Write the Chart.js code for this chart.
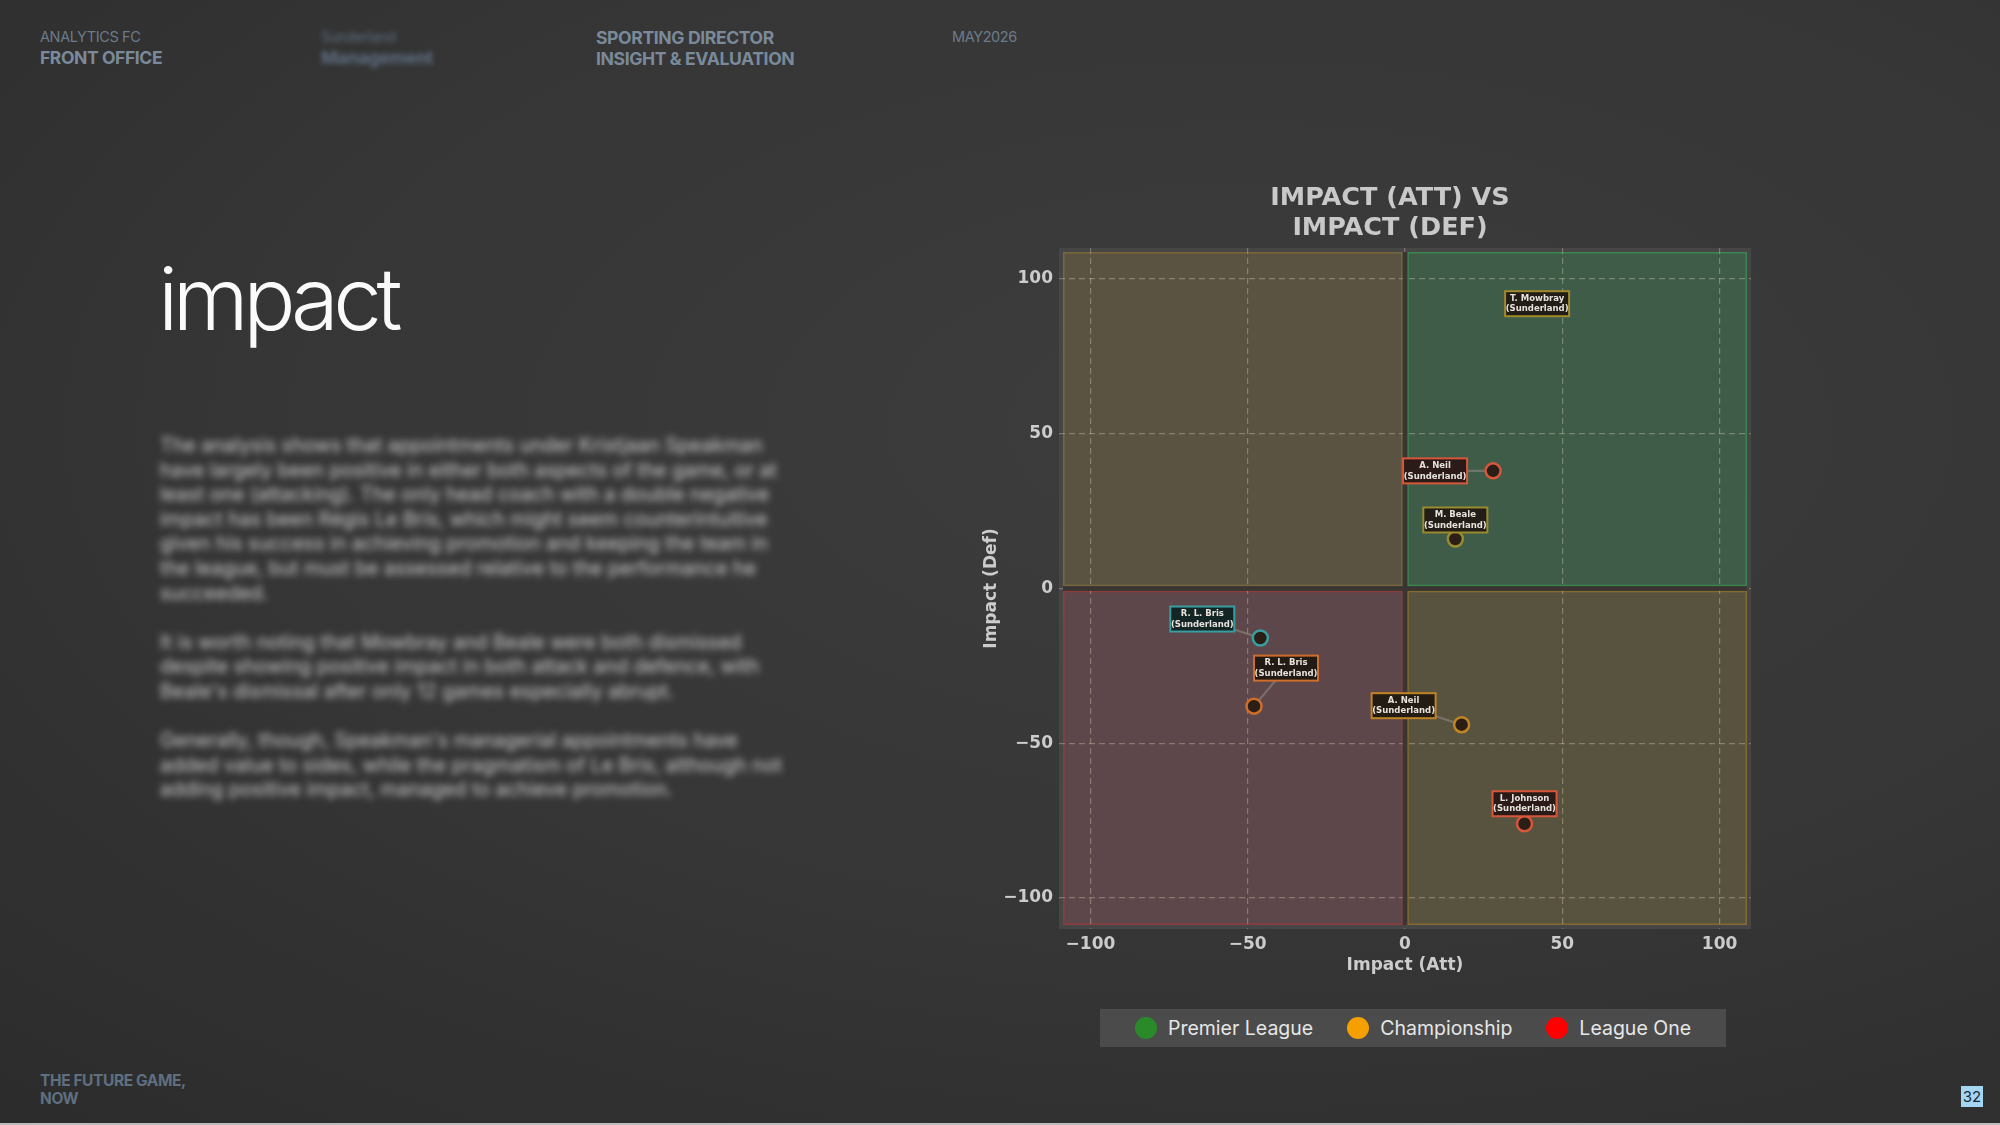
<!DOCTYPE html>
<html>
<head>
<meta charset="utf-8">
<script src="https://cdn.jsdelivr.net/npm/chart.js@4.4.1/dist/chart.umd.min.js"></script>
<style>
  html,body{margin:0;padding:0;}
  body{width:2000px;height:1125px;overflow:hidden;position:relative;
    background: radial-gradient(ellipse 120% 110% at 62% 38%, #3d3d3d 0%, #363636 40%, #2c2c2c 75%, #222 100%);
    font-family: Inter, "Noto Sans", sans-serif;}
  .abs{position:absolute;white-space:nowrap;}
  .hdr{font-size:14.5px;letter-spacing:-0.4px;color:#6c7b8a;line-height:20.5px;}
  .hdr b{font-weight:700;color:#7a8a9b;}
  #bigtitle{left:158px;top:244px;font-size:87px;font-weight:300;color:#fafafa;letter-spacing:-5.5px;line-height:110px;}
  #para{left:160px;top:433px;font-size:19.6px;line-height:24.6px;color:#cfcfcf;filter:blur(3.5px);}
  #para p{margin:0 0 24.6px 0;}
  #legend{left:1100px;top:1009px;width:626px;height:38px;background:#4b4b4b;display:flex;align-items:center;justify-content:center;gap:0;}
  .li{display:flex;align-items:center;font-size:19.5px;color:#e6e6e6;margin:0 17px;}
  .dot{width:22px;height:22px;border-radius:50%;margin-right:11px;}
  #pnum{left:1961px;top:1086px;width:22px;height:21px;background:#a4d6f4;color:#1b2733;font-size:15px;line-height:21px;text-align:center;}
  #bottomline{left:0;top:1123px;width:2000px;height:2px;background:#bdbdbd;}
</style>
</head>
<body>
<div class="abs hdr" style="left:40px;top:27px;">ANALYTICS FC<br><b style="font-size:17.5px;">FRONT OFFICE</b></div>
<div class="abs hdr" style="left:321px;top:27px;filter:blur(2.5px);color:#5d6d80;">Sunderland<br><b style="color:#5d6d80;font-size:18px;">Management</b></div>
<div class="abs hdr" style="left:596px;top:28px;font-size:17.6px;"><b>SPORTING DIRECTOR<br>INSIGHT &amp; EVALUATION</b></div>
<div class="abs hdr" style="left:952px;top:27px;">MAY2026</div>

<div id="bigtitle" class="abs">impact</div>

<div id="para" class="abs">
<p>The analysis shows that appointments under Kristjaan Speakman<br>have largely been positive in either both aspects of the game, or at<br>least one (attacking). The only head coach with a double negative<br>impact has been Régis Le Bris, which might seem counterintuitive<br>given his success in achieving promotion and keeping the team in<br>the league, but must be assessed relative to the performance he<br>succeeded.</p>
<p>It is worth noting that Mowbray and Beale were both dismissed<br>despite showing positive impact in both attack and defence, with<br>Beale's dismissal after only 12 games especially abrupt.</p>
<p>Generally, though, Speakman's managerial appointments have<br>added value to sides, while the pragmatism of Le Bris, although not<br>adding positive impact, managed to achieve promotion.</p>
</div>

<canvas id="c" width="812" height="808" style="position:absolute;left:959px;top:171px;"></canvas>

<div id="legend" class="abs"></div>

<div class="abs hdr" style="left:40px;top:1072px;line-height:18px;"><b style="color:#5f6f80;font-size:15.5px;">THE FUTURE GAME,<br>NOW</b></div>
<div id="pnum" class="abs">32</div>
<div id="bottomline" class="abs"></div>

<script>
// ---------- DATA ----------
const chartTitle = ['IMPACT (ATT) VS', 'IMPACT (DEF)'];
const xAxisTitle = 'Impact (Att)';
const yAxisTitle = 'Impact (Def)';
const managers = ['T. Mowbray', 'A. Neil', 'M. Beale', 'R. L. Bris', 'R. L. Bris', 'A. Neil', 'L. Johnson'];
const clubs = ['Sunderland', 'Sunderland', 'Sunderland', 'Sunderland', 'Sunderland', 'Sunderland', 'Sunderland'];
const impactAtt = [42, 28, 16, -46, -48, 18, 38];
const impactDef = [92, 38, 16, -16, -38, -44, -76];
const tickValues = [-100, -50, 0, 50, 100];
const tickLabels = ['\u2212100', '\u221250', '0', '50', '100'];
const axisMin = -110, axisMax = 110;
const legendLeagues = ['Premier League', 'Championship', 'League One'];

// ---------- STYLES ----------
const legendColors = ['#2a8a2a', '#f5a000', '#ff0000'];
const edgeColors = ['#a08a2a', '#d8563a', '#9a8c2e', '#3a9ea0', '#cf6e2c', '#c08424', '#d8563a'];
const boxFills = ['#221d16', '#2a1b18', '#221d16', '#142526', '#221a15', '#221c15', '#2a1b18'];
const labelOffsets = [[0, 0], [-58, 0], [0, -19], [-58, -19], [32, -38], [-58, -19], [0, -20]];
const quadFill = {tl: '#5a5342', tr: '#3f5c49', bl: '#5e474a', br: '#58533f'};
const quadEdge = {tl: '#76683c', tr: '#3a8650', bl: '#8c3c3c', br: '#846a30'};

// legend (HTML)
const lg = document.getElementById('legend');
legendLeagues.forEach((name, i) => {
  const d = document.createElement('div'); d.className = 'li';
  const s = document.createElement('span'); s.className = 'dot'; s.style.background = legendColors[i];
  d.appendChild(s); d.appendChild(document.createTextNode(name)); lg.appendChild(d);
});

const quadrants = {
  id: 'quadrants',
  beforeDraw(chart) {
    const {ctx, chartArea: a, scales: {x, y}} = chart;
    const x0 = x.getPixelForValue(0), y0 = y.getPixelForValue(0);
    ctx.save();
    ctx.fillStyle = '#464646';
    ctx.fillRect(a.left, a.top, a.right - a.left, a.bottom - a.top);
    const inset = 4, gap = 2.3;
    const rects = [
      ['tl', a.left + inset, a.top + inset, x0 - gap, y0 - gap],
      ['tr', x0 + gap, a.top + inset, a.right - inset, y0 - gap],
      ['bl', a.left + inset, y0 + gap, x0 - gap, a.bottom - inset],
      ['br', x0 + gap, y0 + gap, a.right - inset, a.bottom - inset]
    ];
    rects.forEach(([k, l, t, r, b]) => {
      ctx.fillStyle = quadFill[k];
      ctx.fillRect(l, t, r - l, b - t);
      ctx.strokeStyle = quadEdge[k]; ctx.lineWidth = 1.5;
      ctx.strokeRect(l + 0.75, t + 0.75, r - l - 1.5, b - t - 1.5);
    });
    ctx.restore();
  },
  beforeDatasetsDraw(chart) {
    const {ctx, chartArea: a, scales: {x, y}} = chart;
    const x0 = x.getPixelForValue(0), y0 = y.getPixelForValue(0);
    ctx.save();
    ctx.fillStyle = '#3a3531';
    ctx.fillRect(x0 - 2.3, a.top + 4, 4.6, a.bottom - a.top - 8);
    ctx.fillRect(a.left + 4, y0 - 2.3, a.right - a.left - 8, 4.6);
    // connectors
    ctx.strokeStyle = 'rgba(150,140,135,0.55)'; ctx.lineWidth = 2.2;
    impactAtt.forEach((v, i) => {
      const px = x.getPixelForValue(v), py = y.getPixelForValue(impactDef[i]);
      const [dx, dy] = labelOffsets[i];
      if (dx === 0 && dy === 0) return;
      ctx.beginPath(); ctx.moveTo(px + dx, py + dy); ctx.lineTo(px, py); ctx.stroke();
    });
    ctx.restore();
  },
  afterDatasetsDraw(chart) {
    const {ctx, scales: {x, y}} = chart;
    ctx.save();
    impactAtt.forEach((v, i) => {
      const px = x.getPixelForValue(v), py = y.getPixelForValue(impactDef[i]);
      const cx = px + labelOffsets[i][0], cy = py + labelOffsets[i][1];
      const w = 64, h = 25;
      ctx.fillStyle = boxFills[i];
      ctx.fillRect(cx - w / 2, cy - h / 2, w, h);
      ctx.strokeStyle = edgeColors[i]; ctx.lineWidth = 2;
      ctx.strokeRect(cx - w / 2, cy - h / 2, w, h);
      ctx.fillStyle = '#e8e2dc';
      ctx.font = 'bold 8.5px "DejaVu Sans"';
      ctx.textAlign = 'center'; ctx.textBaseline = 'middle';
      ctx.fillText(managers[i], cx, cy - 5);
      ctx.fillText('(' + clubs[i] + ')', cx, cy + 5.5);
    });
    // chart title
    const {chartArea: a} = chart;
    ctx.fillStyle = '#c9c9c9';
    ctx.font = 'bold 25.5px "DejaVu Sans"';
    ctx.textAlign = 'center'; ctx.textBaseline = 'middle';
    const tx = (a.left + a.right) / 2 - 15;
    ctx.fillText(chartTitle[0], tx, a.top - 49.5);
    ctx.fillText(chartTitle[1], tx, a.top - 19.5);
    ctx.restore();
  }
};

const tickFont = {family: 'DejaVu Sans', size: 17, weight: 'bold'};
const gridOpts = {color: 'rgba(255,232,205,0.30)', lineWidth: 1.2, drawTicks: false};
const borderOpts = {display: false, dash: [6, 4]};

new Chart(document.getElementById('c'), {
  type: 'scatter',
  data: {
    datasets: [{
      label: 'Managers',
      data: impactAtt.map((v, i) => ({x: v, y: impactDef[i]})),
      pointRadius: 7.5,
      pointBackgroundColor: '#2a1e17',
      pointBorderColor: edgeColors,
      pointBorderWidth: 2.5
    }]
  },
  options: {
    responsive: false,
    animation: false,
    devicePixelRatio: 1,
    layout: {padding: {top: 77, right: 20, bottom: 0, left: 0}},
    plugins: {legend: {display: false}, tooltip: {enabled: false}},
    scales: {
      x: {
        type: 'linear', min: axisMin, max: axisMax,
        afterFit(s) { s.height = 50; },
        afterBuildTicks(s) { s.ticks = tickValues.map(v => ({value: v})); },
        ticks: {color: '#cccccc', font: tickFont, padding: 5, maxRotation: 0,
          callback: (v) => tickLabels[tickValues.indexOf(v)]},
        grid: gridOpts, border: borderOpts,
        title: {display: true, text: xAxisTitle, color: '#cccccc', font: tickFont, padding: {top: 0, bottom: 3}}
      },
      y: {
        type: 'linear', min: axisMin, max: axisMax,
        afterFit(s) { s.width = 100; },
        afterBuildTicks(s) { s.ticks = tickValues.map(v => ({value: v})); },
        ticks: {color: '#cccccc', font: tickFont, padding: 6,
          callback: (v) => tickLabels[tickValues.indexOf(v)]},
        grid: gridOpts, border: borderOpts,
        title: {display: true, text: yAxisTitle, color: '#cccccc', font: tickFont, padding: {top: 22, bottom: 0}}
      }
    }
  },
  plugins: [quadrants]
});
</script>
</body>
</html>
